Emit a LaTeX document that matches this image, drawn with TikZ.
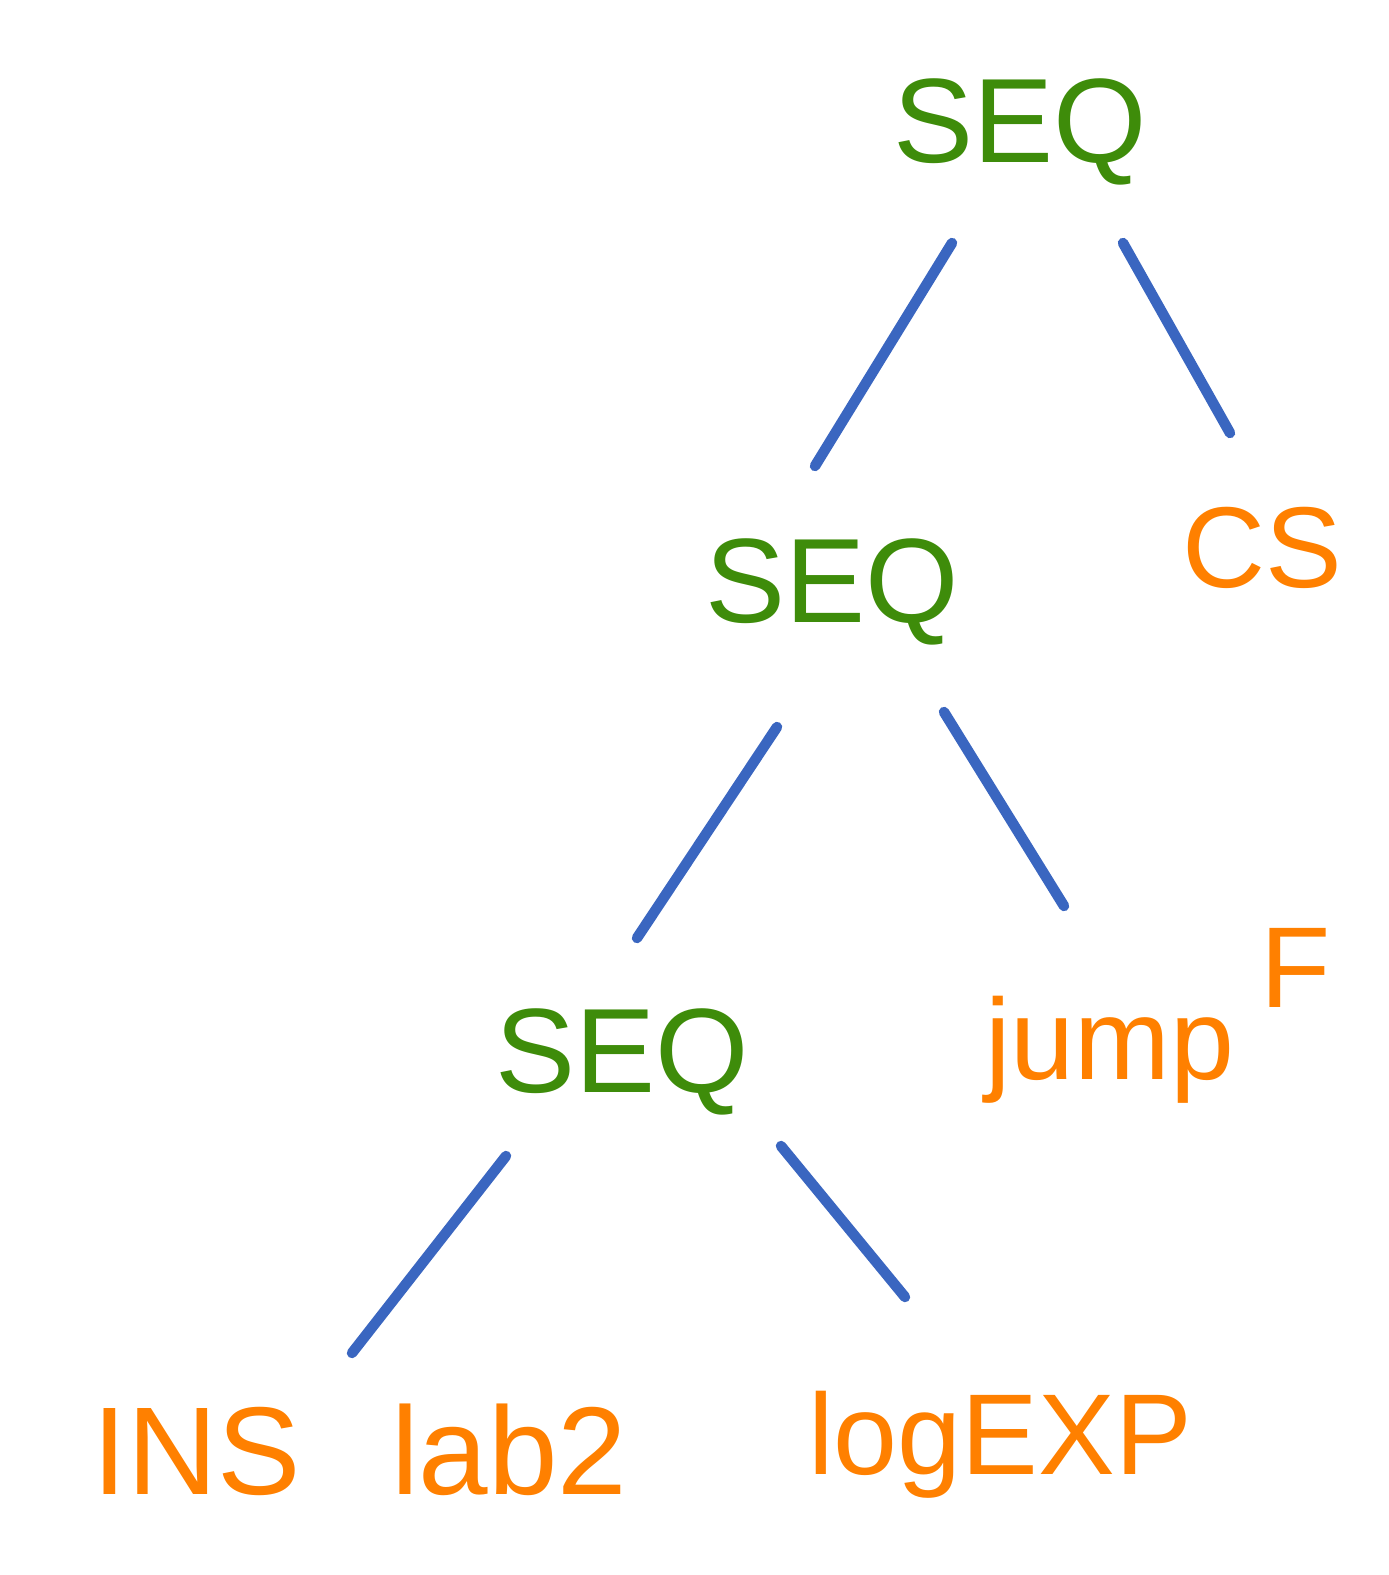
\documentclass[tikz,border=0pt]{standalone}
\usepackage{fontspec}
\setmainfont{Liberation Sans}
\usetikzlibrary{calc}
\definecolor{seqgreen}{RGB}{62,140,10}
\definecolor{leaforange}{RGB}{255,128,0}
\definecolor{edgeblue}{RGB}{58,102,192}
\begin{document}
\begin{tikzpicture}[x=1pt,y=-1pt,
  inner node/.style={text=seqgreen,font=\fontsize{120}{120}\selectfont,inner sep=0pt},
  leaf/.style={text=leaforange,font=\fontsize{115}{115}\selectfont,inner sep=0pt},
  edge/.style={draw=edgeblue,line width=10.5pt,line cap=round}]
\useasboundingbox (0,0) rectangle (1389,1575);
\node[inner node] (s1) at (1020,132) {SEQ};
\node[inner node] (s2) at (832,592) {SEQ};
\node[inner node] (s3) at (622,1062) {SEQ};
\node[leaf] (cs) at (1262,548) {CS};
\node[leaf] (jump) at (1110,1050) {jump};
\node[leaf] (f) at (1296,968) {F};
\node[leaf,font=\fontsize{125}{125}\selectfont] (ins) at (360,1450) {INS\hskip 90pt lab2};
\node[leaf] (log) at (1000,1445) {logEXP};
\draw[edge] ($(s1)+(-68,111)$) -- ($(s2)+(-17,-126)$);
\draw[edge] ($(s1)+(103,111)$) -- ($(cs)+(-32,-115)$);
\draw[edge] ($(s2)+(-55,135)$) -- ($(s3)+(15,-124)$);
\draw[edge] ($(s2)+(112,120)$) -- ($(jump)+(-46,-144)$);
\draw[edge] ($(s3)+(-116,94)$) -- ($(ins)+(-8,-97)$);
\draw[edge] ($(s3)+(159,84)$) -- ($(log)+(-95,-148)$);
\end{tikzpicture}
\end{document}
